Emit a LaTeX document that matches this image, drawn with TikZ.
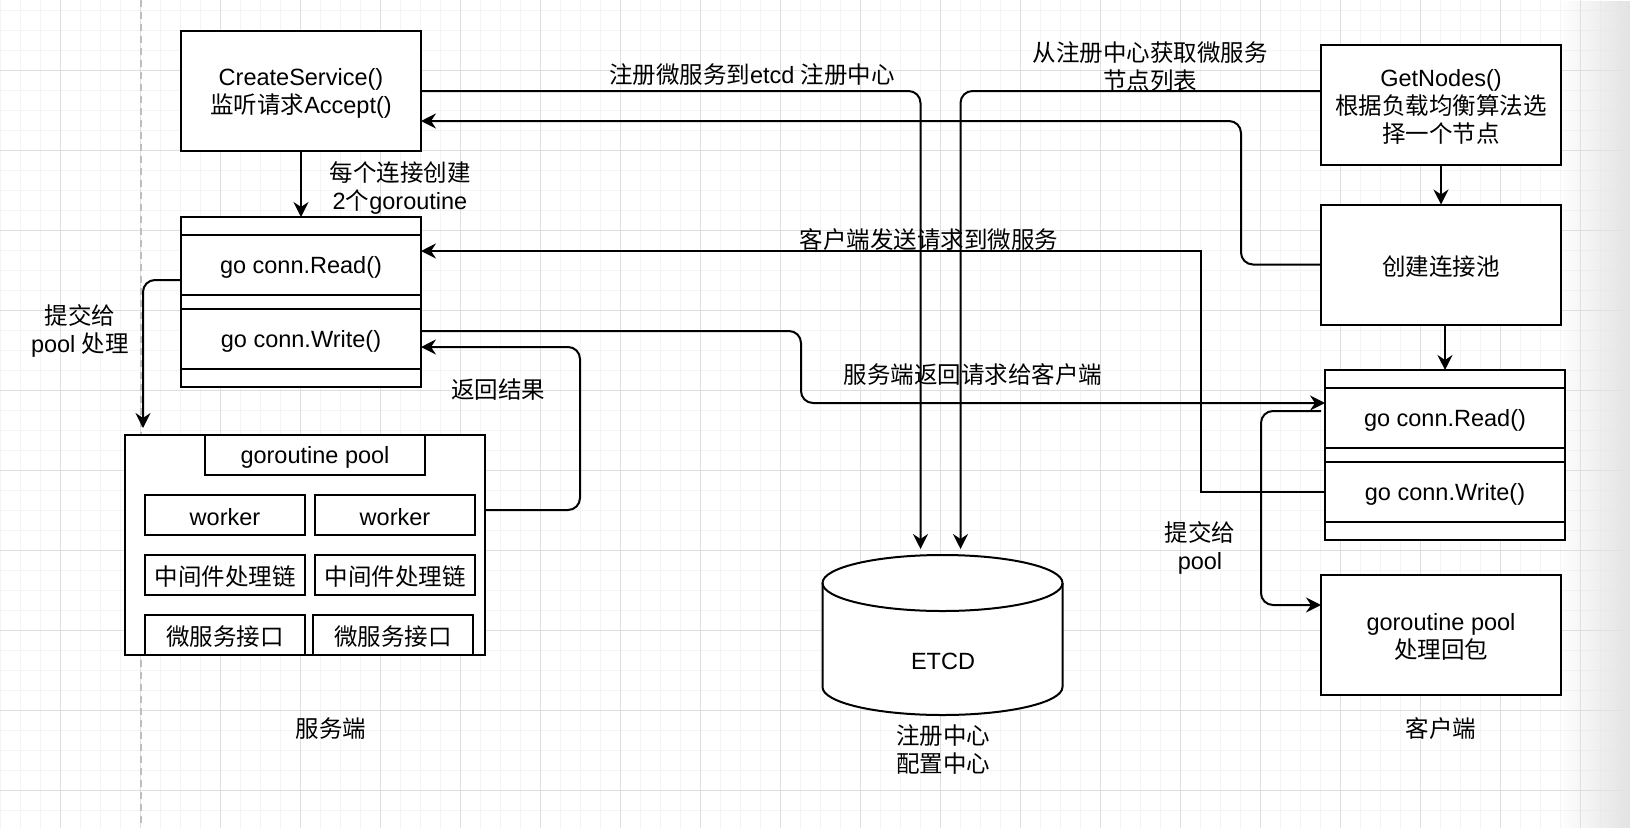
\documentclass[tikz,border=0pt]{standalone}
\usepackage{fontspec}
\setmainfont{Liberation Sans}
\newfontfamily\cjkfont{Noto Sans CJK SC}
\newcommand{\zh}[1]{{\cjkfont #1}}
\usetikzlibrary{arrows.meta,calc,fadings}
\tikzfading[name=edgefade, left color=transparent!100, right color=transparent!0]
\tikzset{
  txt/.style={font=\fontsize{23.5}{28}\selectfont, text=black},
  lbl/.style={txt, inner sep=0pt, align=center},
  box/.style={draw=black, line width=2pt, fill=white, inner sep=0pt, outer sep=0pt},
  boxt/.style={box, label={[lbl, yshift=-2pt]center:{#1}}},
  arr/.style={line width=2pt, draw=black, rounded corners=12pt, -{Stealth[length=15pt, width=15pt, inset=5pt]}},
  arrsharp/.style={line width=2pt, draw=black, -{Stealth[length=15pt, width=15pt, inset=5pt]}},
  gridminor/.style={draw={rgb,255:red,244;green,244;blue,244}, line width=1pt},
  gridmajor/.style={draw={rgb,255:red,222;green,222;blue,222}, line width=1pt},
  sepline/.style={draw={rgb,255:red,190;green,190;blue,190}, line width=1.5pt, dash pattern=on 7pt off 5pt},
}
\begin{document}
\begin{tikzpicture}[x=1pt, y=-1pt]
\useasboundingbox (0,0) rectangle (1630,828);
\fill[white] (0,0) rectangle (1630,828);
% grid
\foreach \x in {0,20,...,1620} \draw[gridminor] (\x,0) -- (\x,828);
\foreach \y in {10,30,...,820} \draw[gridminor] (0,\y) -- (1630,\y);
\foreach \x in {60,140,...,1580} \draw[gridmajor] (\x,0) -- (\x,828);
\foreach \y in {70,150,...,790} \draw[gridmajor] (0,\y) -- (1630,\y);
% page shadow at right
\fill[black!11, path fading=edgefade] (1560,0) rectangle (1630,828);
% dashed separator
\draw[sepline] (141,0) -- (141,828);

% ---------- server side ----------
\node[boxt={CreateService()\\\zh{监听请求}Accept()}, minimum width=240pt, minimum height=120pt] (cs) at (301,91) {};
\node[box, minimum width=240pt, minimum height=170pt] (sconn) at (301,302) {};
\node[boxt={go conn.Read()}, minimum width=240pt, minimum height=60pt] (sread) at (301,265) {};
\node[boxt={go conn.Write()}, minimum width=240pt, minimum height=60pt] (swrite) at (301,339) {};

\node[box, minimum width=360pt, minimum height=220pt] (spool) at (305,545) {};
\node[boxt={goroutine pool}, minimum width=220pt, minimum height=40pt] (gpool) at (315,455) {};
\node[boxt={worker}, minimum width=160pt, minimum height=40pt] (w1) at (225,515) {};
\node[boxt={worker}, minimum width=160pt, minimum height=40pt] (w2) at (395,515) {};
\node[boxt={\zh{中间件处理链}}, minimum width=160pt, minimum height=40pt] (m1) at (225,575) {};
\node[boxt={\zh{中间件处理链}}, minimum width=160pt, minimum height=40pt] (m2) at (395,575) {};
\node[boxt={\zh{微服务接口}}, minimum width=160pt, minimum height=40pt] (i1) at (225,635) {};
\node[boxt={\zh{微服务接口}}, minimum width=160pt, minimum height=40pt] (i2) at (393,635) {};
\draw[line width=2pt] (spool.north west) rectangle (spool.south east);

% ---------- etcd ----------
\node[minimum width=240pt, minimum height=160pt, inner sep=0pt, outer sep=0pt] (etcd) at (942.5,635) {};
\fill[white] (822.5,583) -- (822.5,687) arc[start angle=180, end angle=360, x radius=120pt, y radius=28pt] -- (1062.5,583) arc[start angle=0, end angle=180, x radius=120pt, y radius=28pt] -- cycle;
\draw[line width=2pt] (822.5,583) -- (822.5,687) arc[start angle=180, end angle=360, x radius=120pt, y radius=28pt] -- (1062.5,583);
\draw[line width=2pt] (942.5,583) ellipse [x radius=120pt, y radius=28pt];
\node[lbl] (etcdtxt) at (943,661) {ETCD};

% ---------- client side ----------
\node[boxt={GetNodes()\\\zh{根据负载均衡算法选}\\\zh{择一个节点}}, minimum width=240pt, minimum height=120pt] (gn) at (1441,105) {};
\node[boxt={\zh{创建连接池}}, minimum width=240pt, minimum height=120pt] (cpool) at (1441,264.5) {};
\node[box, minimum width=240pt, minimum height=170pt] (cconn) at (1445,455) {};
\node[boxt={go conn.Read()}, minimum width=240pt, minimum height=60pt] (cread) at (1445,418) {};
\node[boxt={go conn.Write()}, minimum width=240pt, minimum height=60pt] (cwrite) at (1445,492) {};
\node[boxt={goroutine pool\\\zh{处理回包}}, minimum width=240pt, minimum height=120pt] (cgp) at (1441,635) {};

% ---------- connectors ----------
\draw[arr] (cs.south) -- (sconn.north);
\draw[arr] (cs.east) -| ($(etcd.north)+(-22,-6)$);
\draw[arr] ($(gn.west)+(0,-14)$) -| ($(etcd.north)+(18,-6)$);
\draw[arr] (cpool.west) -- ++(-80,0) |- ($(cs.east)+(0,30)$);
\draw[arrsharp] (gn.south) -- (cpool.north);
\draw[arrsharp] (cconn.north |- cpool.south) -- (cconn.north);
\draw[arrsharp] (cwrite.west) -- ++(-124,0) |- ($(sread.east)+(0,-14)$);
\draw[arr] ($(swrite.east)+(0,-8)$) -- ++(380,0) |- ($(cread.west)+(0,-15)$);
\draw[arr] ($(spool.east)+(0,-35)$) -- ++(95,0) |- ($(swrite.east)+(0,8)$);
\draw[arr] ($(sread.west)+(0,15)$) -| ($(spool.north west)+(18,-7)$);
\draw[arr] ($(cread.west)+(-4,-7)$) -- ++(-60,0) |- ($(cgp.west)+(0,-30)$);

% ---------- labels ----------
\node[lbl] (lA) at (752,75) {\zh{注册微服务到}etcd \zh{注册中心}};
\node[lbl] (lB) at (1150,67) {\zh{从注册中心获取微服务}\\\zh{节点列表}};
\node[lbl] (lF) at (400,188) {\zh{每个连接创建}\\2\zh{个}goroutine};
\node[lbl] (lG) at (929,240) {\zh{客户端发送请求到微服务}};
\node[lbl] (lH) at (973,375) {\zh{服务端返回请求给客户端}};
\node[lbl] (lI) at (498,390) {\zh{返回结果}};
\node[lbl] (lJ) at (80,331) {\zh{提交给}\\pool \zh{处理}};
\node[lbl] (lK) at (1200,548) {\zh{提交给}\\pool};
\node[lbl] (lS) at (331,729) {\zh{服务端}};
\node[lbl] (lC) at (1441,729) {\zh{客户端}};
\node[lbl] (lE) at (943,749) {\zh{注册中心}\\\zh{配置中心}};
\end{tikzpicture}
\end{document}
